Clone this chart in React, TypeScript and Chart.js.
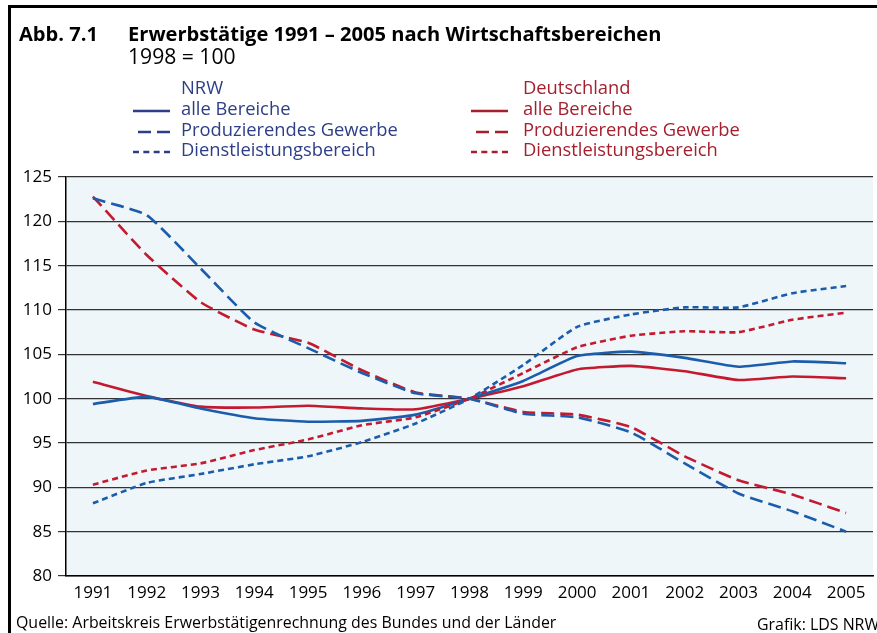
import React, { useEffect, useRef } from "react";
import { Chart, registerables } from "chart.js";

Chart.register(...registerables);

const years = ["1991", "1992", "1993", "1994", "1995", "1996", "1997", "1998", "1999", "2000", "2001", "2002", "2003", "2004", "2005"];

const nrwAlle = [99.4, 100.2, 98.9, 97.8, 97.4, 97.5, 98.2, 100, 102.0, 104.8, 105.3, 104.6, 103.6, 104.2, 104.0];
const nrwProd = [122.6, 120.7, 114.7, 108.6, 105.7, 102.9, 100.6, 100, 98.3, 97.9, 96.2, 92.7, 89.3, 87.3, 85.0];
const nrwDienst = [88.2, 90.5, 91.5, 92.6, 93.5, 95.1, 97.2, 100, 103.8, 108.1, 109.5, 110.3, 110.3, 111.9, 112.7];

const deAlle = [101.9, 100.3, 99.1, 99.0, 99.2, 98.9, 98.8, 100, 101.4, 103.3, 103.7, 103.1, 102.1, 102.5, 102.3];
const deProd = [122.8, 116.2, 110.9, 107.8, 106.3, 103.2, 100.7, 100, 98.5, 98.2, 96.8, 93.5, 90.8, 89.2, 87.1];
const deDienst = [90.3, 91.9, 92.7, 94.2, 95.4, 97.0, 97.9, 100, 102.9, 105.8, 107.1, 107.6, 107.5, 108.9, 109.7];

const legendLabels = ["alle Bereiche", "Produzierendes Gewerbe", "Dienstleistungsbereich"];

const titleText = "Erwerbstätige 1991 – 2005 nach Wirtschaftsbereichen";
const titlePrefix = "Abb. 7.1";
const subtitleText = "1998 = 100";
const sourceText = "Quelle: Arbeitskreis Erwerbstätigenrechnung des Bundes und der Länder";
const creditText = "Grafik: LDS NRW";

const BLUE = "#1b5cab";
const RED = "#c41a2f";
const NAVY = "#2d3e86";
const DARKRED = "#a51f2d";
const FONT = "'Open Sans', sans-serif";

const SOLID: number[] = [];
const DASH = [13, 6];
const DOT = [6, 4];

function fitSize(ctx: CanvasRenderingContext2D, text: string, weight: string, target: number) {
  ctx.font = `${weight} 20px ${FONT}`;
  const w = ctx.measureText(text).width;
  return (20 * target) / w;
}

const decor = {
  id: "decor",
  beforeDraw(chart: any) {
    const { ctx, chartArea: a, width, height } = chart;
    ctx.save();
    ctx.fillStyle = "#ffffff";
    ctx.fillRect(0, 0, width, height);
    ctx.fillStyle = "#eef6fa";
    ctx.fillRect(a.left, a.top, a.right - a.left, a.bottom - a.top);
    ctx.restore();
  },
  afterDraw(chart: any) {
    const { ctx, width, height } = chart;
    ctx.save();
    // frame
    ctx.strokeStyle = "#000";
    ctx.lineWidth = 3;
    ctx.beginPath();
    ctx.moveTo(9.5, height);
    ctx.lineTo(9.5, 6.5);
    ctx.lineTo(width, 6.5);
    ctx.stroke();

    ctx.textBaseline = "alphabetic";
    ctx.textAlign = "left";
    // title
    const ts = fitSize(ctx, titleText, "bold", 534);
    ctx.font = `bold ${ts}px ${FONT}`;
    ctx.fillStyle = "#000";
    ctx.fillText(titlePrefix, 19, 41);
    ctx.fillText(titleText, 128, 41);
    ctx.font = `normal ${ts + 1}px ${FONT}`;
    ctx.fillText(subtitleText, 128, 64);

    // legend
    const ls = fitSize(ctx, legendLabels[1], "normal", 217);
    ctx.font = `normal ${ls}px ${FONT}`;
    const rows = [89, 110, 131, 151];
    const cols = [
      { head: "NRW", text: 181, lx1: 170, textColor: NAVY, lineColor: NAVY },
      { head: "Deutschland", text: 523, lx1: 508, textColor: DARKRED, lineColor: DARKRED },
    ];
    const samples = [
      { len: 37, dash: SOLID },
      { len: 32, dash: [13, 6] },
      { len: 37, dash: [6, 4.33] },
    ];
    cols.forEach((c) => {
      ctx.fillStyle = c.textColor;
      ctx.textBaseline = "middle";
      ctx.fillText(c.head, c.text, rows[0]);
      legendLabels.forEach((lab, i) => {
        const y = rows[i + 1];
        ctx.fillStyle = c.textColor;
        ctx.fillText(lab, c.text, y);
        ctx.strokeStyle = c.lineColor;
        ctx.lineWidth = 2.5;
        ctx.setLineDash(samples[i].dash);
        ctx.beginPath();
        ctx.moveTo(c.lx1 - samples[i].len, y + 1);
        ctx.lineTo(c.lx1, y + 1);
        ctx.stroke();
      });
    });
    ctx.setLineDash([]);

    // footer
    ctx.fillStyle = "#000";
    const fs = fitSize(ctx, sourceText, "normal", 541);
    ctx.font = `normal ${fs}px ${FONT}`;
    ctx.textBaseline = "middle";
    ctx.fillText(sourceText, 16, 623);
    ctx.fillText(creditText, 757, 625);
    ctx.restore();
  },
};

export default function App() {
  const ref = useRef<HTMLCanvasElement | null>(null);

  useEffect(() => {
    if (!ref.current) return;
    const mk = (label: string, data: number[], color: string, dash: number[]) => ({
      label,
      data,
      borderColor: color,
      backgroundColor: color,
      borderWidth: 2.6,
      borderDash: dash,
      pointRadius: 0,
      tension: 0.15,
      fill: false,
    });
    const chart = new Chart(ref.current, {
      type: "line",
      data: {
        labels: years,
        datasets: [
          mk("NRW Dienstleistungsbereich", nrwDienst, BLUE, DOT),
          mk("Deutschland Dienstleistungsbereich", deDienst, RED, DOT),
          mk("NRW Produzierendes Gewerbe", nrwProd, BLUE, DASH),
          mk("Deutschland Produzierendes Gewerbe", deProd, RED, DASH),
          mk("NRW alle Bereiche", nrwAlle, BLUE, SOLID),
          mk("Deutschland alle Bereiche", deAlle, RED, SOLID),
        ],
      },
      options: {
        animation: false,
        responsive: false,
        maintainAspectRatio: false,
        layout: { padding: { top: 177, right: 4, bottom: 0, left: 0 } },
        plugins: {
          legend: { display: false },
          title: { display: false },
          tooltip: { enabled: false },
        },
        scales: {
          x: {
            type: "category",
            offset: true,
            grid: { display: false, drawTicks: false },
            border: { display: true, color: "#000", width: 1.5 },
            ticks: { color: "#000", font: { family: FONT, size: 17 }, padding: 7, maxRotation: 0, autoSkip: false },
            afterFit: (s: any) => {
              s.height = 57;
            },
          },
          y: {
            min: 80,
            max: 125,
            ticks: { stepSize: 5, color: "#000", font: { family: FONT, size: 17 }, padding: 6 },
            grid: { color: "#333", lineWidth: 1.2, drawTicks: true, tickLength: 8 },
            border: { display: true, color: "#000", width: 1.5 },
            afterFit: (s: any) => {
              s.width = 66;
            },
          },
        },
      },
      plugins: [decor],
    } as any);
    return () => chart.destroy();
  }, []);

  return (
    <div style={{ position: "absolute", left: 0, top: 0, width: 877, height: 633 }}>
      <canvas ref={ref} width={877} height={633} style={{ width: 877, height: 633, display: "block" }} />
    </div>
  );
}
